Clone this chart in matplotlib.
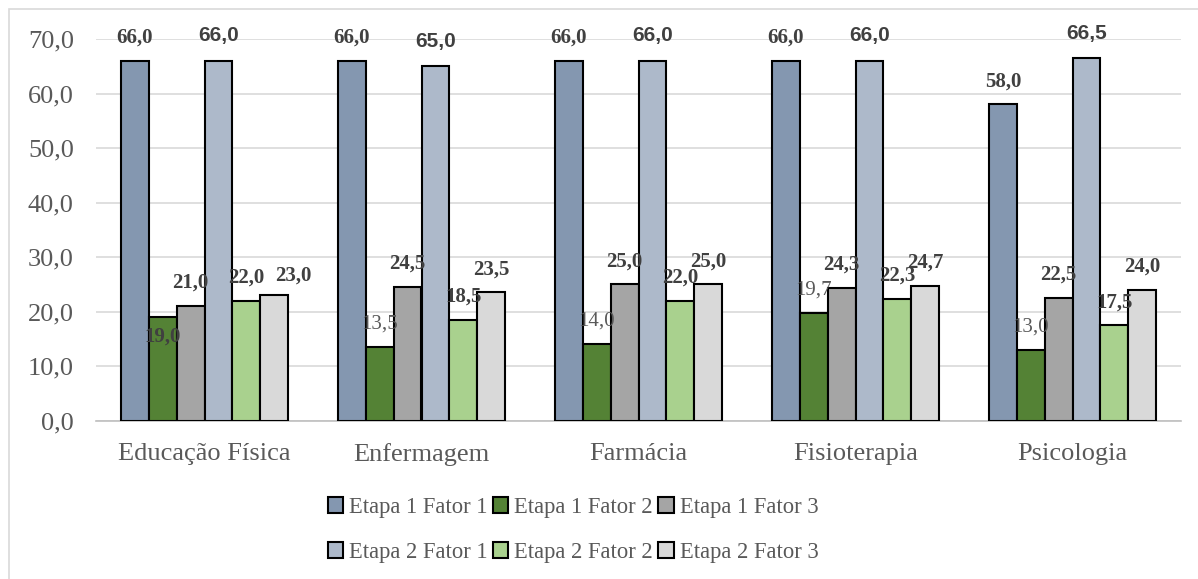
import numpy as np
import matplotlib
matplotlib.use("Agg")
import matplotlib.pyplot as plt
from matplotlib.patches import Patch, Rectangle
from matplotlib.ticker import FuncFormatter

# cursos e séries
cursos = ["Educação Física", "Enfermagem", "Farmácia", "Fisioterapia", "Psicologia"]
series = ["Etapa 1 Fator 1", "Etapa 1 Fator 2", "Etapa 1 Fator 3",
          "Etapa 2 Fator 1", "Etapa 2 Fator 2", "Etapa 2 Fator 3"]

e1_f1 = [66.0, 66.0, 66.0, 66.0, 58.0]
e1_f2 = [19.0, 13.5, 14.0, 19.7, 13.0]
e1_f3 = [21.0, 24.5, 25.0, 24.3, 22.5]
e2_f1 = [66.0, 65.0, 66.0, 66.0, 66.5]
e2_f2 = [22.0, 18.5, 22.0, 22.3, 17.5]
e2_f3 = [23.0, 23.5, 25.0, 24.7, 24.0]
valores = [e1_f1, e1_f2, e1_f3, e2_f1, e2_f2, e2_f3]

cores = ["#8497b0", "#548235", "#a5a5a5", "#adb9ca", "#a9d18e", "#d9d9d9"]

serif = ["Liberation Serif", "DejaVu Serif"]
sans = ["Liberation Sans", "DejaVu Sans"]

def virgula(v):
    return f"{v:.1f}".replace(".", ",")

fig = plt.figure(figsize=(11.98, 5.79), dpi=100)
ax = fig.add_axes([96 / 1198, 1 - 420.5 / 579, 1085 / 1198, 381.5 / 579])

# moldura do gráfico
fig.patches.append(Rectangle((9 / 1198, -0.1), 1.2, 1.1 - 9 / 579, transform=fig.transFigure,
                             fill=False, edgecolor="#d9d9d9", linewidth=1.2))

x = np.arange(len(cursos))
grupo = 0.77
larg = grupo / len(series)

barras = []
for i, vals in enumerate(valores):
    pos = x - grupo / 2 + larg * (i + 0.5)
    b = ax.bar(pos, vals, width=larg, color=cores[i], edgecolor="black",
               linewidth=1.5, zorder=3)
    barras.append(b)

# rótulos de dados
ajustes = {(0, 1): (0, -20), (0, 5): (19, 20)}
for i, vals in enumerate(valores):
    for j, v in enumerate(vals):
        dx, dy = ajustes.get((j, i), (0, 25 if i == 3 else 23))
        pos = x[j] - grupo / 2 + larg * (i + 0.5)
        if i == 3:
            fam, peso, cor = sans, "bold", "#404040"
        elif i == 1 and j > 0:
            fam, peso, cor = serif, "normal", "#595959"
        else:
            fam, peso, cor = serif, "bold", "#404040"
        ax.annotate(virgula(v), (pos, v), xytext=(dx * 0.72, dy * 0.72),
                    textcoords="offset points", ha="center", va="center",
                    fontsize=15, fontweight=peso, family=fam, color=cor, zorder=5)

ax.set_xlim(-0.5, len(cursos) - 0.5)
ax.set_ylim(0, 70)
ax.set_yticks(np.arange(0, 71, 10))
ax.yaxis.set_major_formatter(FuncFormatter(lambda v, p: virgula(v)))
ax.set_xticks(x)
ax.set_xticklabels(cursos)

for lab in ax.get_xticklabels() + ax.get_yticklabels():
    lab.set_family(serif)
    lab.set_fontsize(19)
    lab.set_color("#595959")

ax.tick_params(axis="both", length=0)
ax.tick_params(axis="y", pad=16)
ax.tick_params(axis="x", pad=16.5)
ax.grid(axis="y", color="#d9d9d9", linewidth=1.2, zorder=0)
for s in ["top", "right", "left"]:
    ax.spines[s].set_visible(False)
ax.spines["bottom"].set_color("#bfbfbf")
ax.spines["bottom"].set_linewidth(1.2)

# legenda em duas linhas (o matplotlib preenche por coluna)
ordem = [0, 3, 1, 4, 2, 5]
handles = [Patch(facecolor=cores[k], edgecolor="black", linewidth=1.5) for k in ordem]
leg = fig.legend(handles, [series[k] for k in ordem], ncol=3, loc="center",
                 bbox_to_anchor=(573 / 1198, 1 - 530 / 579), frameon=False,
                 prop={"family": serif, "size": 16.3}, handlelength=0.68,
                 handleheight=0.68, handletextpad=0.25, columnspacing=0.25,
                 labelspacing=1.05)
for t in leg.get_texts():
    t.set_color("#595959")

fig.savefig("out.png", dpi=100)
